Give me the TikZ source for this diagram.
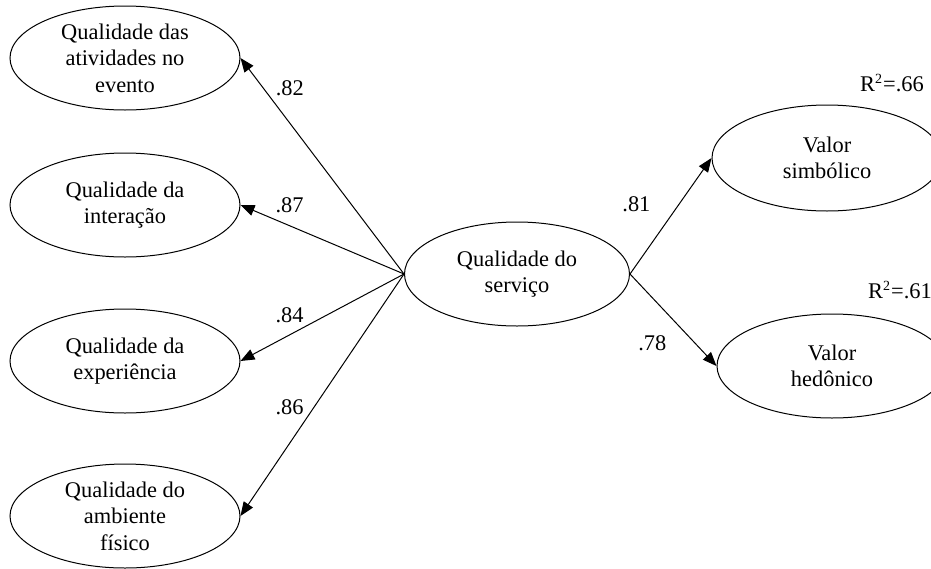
\documentclass[tikz,border=0pt]{standalone}
\usepackage{fontspec}
\setmainfont{Liberation Serif}
\usetikzlibrary{arrows.meta, positioning, shapes.geometric}

\tikzset{
  latent/.style={draw, ellipse, line width=0.5pt, align=center, inner sep=0pt,
    minimum width=115pt, minimum height=52pt, font=\fontsize{11.2}{13.2}\selectfont},
  coef/.style={font=\fontsize{11.2}{13.2}\selectfont, inner sep=2pt}
}

\begin{document}
\begin{tikzpicture}[>={Triangle[length=7pt, width=5.5pt]}, line width=0.5pt, on grid]

\clip (0pt,0pt) rectangle (465.5pt,-284pt);
\useasboundingbox (0pt,0pt) rectangle (465.5pt,-284pt);

\node[latent] (ativ) at (62.5pt,-29pt) {Qualidade das\\atividades no\\evento};
\node[latent] (inter) [below=73.5pt of ativ] {Qualidade da\\interação};
\node[latent] (exper) [below=78pt of inter] {Qualidade da\\experiência};
\node[latent] (amb) [below=77.5pt of exper] {Qualidade do\\ambiente\\físico};
\node[latent, minimum width=112.5pt] (serv) at (258.5pt,-137pt) {Qualidade do\\serviço};
\node[latent, minimum height=53pt] (simb) [above right=58pt and 155pt of serv] {Valor\\simbólico};
\node[latent] (hedo) [below right=46pt and 157.5pt of serv] {Valor\\hedônico};

\node[coef] (r1) [above right=37.5pt and 32.5pt of simb] {R\textsuperscript{\scriptsize 2}=.66};
\node[coef] (r2) [above right=38pt and 34pt of hedo] {R\textsuperscript{\scriptsize 2}=.61};

\path[->]
  (serv.west) edge node[coef, pos=.86, right=4pt] {.82} (ativ.east)
              edge node[coef, pos=.7, above=4pt] {.87} (inter.east)
              edge node[coef, pos=.7, above=4pt] {.84} (exper.east)
              edge node[coef, pos=.55, left=3pt] {.86} (amb.east)
  (serv.east) edge node[coef, pos=.6, left=12pt] {.81} (simb.west)
              edge node[coef, pos=.75, left=12pt] {.78} (hedo.west);

\end{tikzpicture}
\end{document}
